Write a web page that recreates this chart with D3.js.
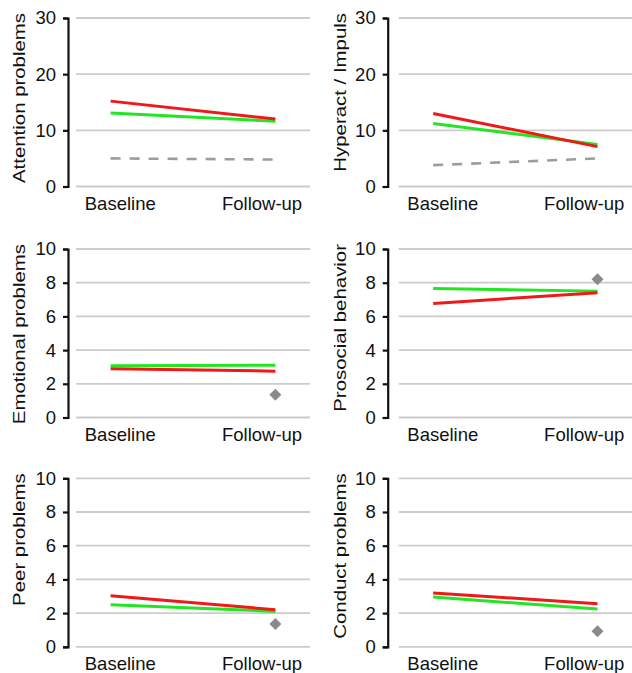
<!DOCTYPE html>
<html>
<head>
<meta charset="utf-8">
<script src="https://cdn.jsdelivr.net/npm/d3@7"></script>
<style>
  html, body { margin: 0; padding: 0; background: #fff; }
  svg { display: block; font-family: "Liberation Sans", Arial, sans-serif; }
</style>
</head>
<body>
<svg id="chart" width="632" height="673"></svg>
<script>
// ---- data ----
const categories = ["Baseline", "Follow-up"];
const panelTitles = ["Attention problems", "Hyperact / Impuls", "Emotional problems",
                     "Prosocial behavior", "Peer problems", "Conduct problems"];
const yMaxValues = [30, 30, 10, 10, 10, 10];
const ticks30 = [0, 10, 20, 30];
const ticks10 = [0, 2, 4, 6, 8, 10];
const greenSeries = [[13.1, 11.6], [11.2, 7.5], [3.07, 3.1], [7.66, 7.5], [2.5, 2.1], [2.95, 2.24]];
const redSeries   = [[15.2, 12.0], [13.0, 7.1], [2.9, 2.75], [6.77, 7.4], [3.03, 2.2], [3.2, 2.55]];
const graySeries  = [[5.0, 4.8], [3.8, 5.0], null, null, null, null];
const diamondValues = [null, null, 1.35, 8.2, 1.35, 0.93];

// ---- layout ----
const rowTops = [18, 249, 478.3];
const plotH = 168.5;
const cols = [
  { axisX: 68, gridX0: 76, gridX1: 310, titleX: 25 },
  { axisX: 387.7, gridX0: 398.7, gridX1: 632, titleX: 346 }
];

const svg = d3.select("#chart");

panelTitles.forEach((title, i) => {
  const col = cols[i % 2];
  const top = rowTops[Math.floor(i / 2)];
  const bottom = top + plotH;
  const yMax = yMaxValues[i];
  const tv = yMax === 30 ? ticks30 : ticks10;

  const y = d3.scaleLinear().domain([0, yMax]).range([bottom, top]);
  const x = d3.scalePoint().domain(categories).range([col.gridX0, col.gridX1]).padding(0.21);
  const xLab = d3.scalePoint().domain(categories).range([col.gridX0, col.gridX1]).padding(0.325).align(0.48);

  const g = svg.append("g");

  // gridlines
  g.selectAll(".grid").data(tv).join("line")
    .attr("x1", col.gridX0).attr("x2", col.gridX1)
    .attr("y1", d => y(d)).attr("y2", d => y(d))
    .attr("stroke", "#cccccc").attr("stroke-width", 1.8);

  // y axis
  const ax = g.append("g").attr("transform", `translate(${col.axisX},0)`)
    .call(d3.axisLeft(y).tickValues(tv).tickSize(5).tickSizeOuter(5).tickPadding(7));
  ax.select(".domain").attr("stroke", "#111").attr("stroke-width", 2.2);
  ax.selectAll(".tick line").attr("stroke", "#111").attr("stroke-width", 2.2);
  ax.selectAll(".tick text").attr("font-size", 18.5).attr("fill", "#111")
    .attr("font-family", "'Liberation Sans', Arial, sans-serif");

  // x labels
  g.selectAll(".xl").data(categories).join("text")
    .attr("x", d => xLab(d)).attr("y", bottom + 23)
    .attr("text-anchor", "middle").attr("font-size", 18.5).attr("fill", "#111")
    .text(d => d);

  // y title
  g.append("text")
    .attr("transform", `translate(${col.titleX},${top - 5}) rotate(-90) scale(1.2,1)`)
    .attr("text-anchor", "end").attr("font-size", 17).attr("fill", "#111")
    .text(title);

  const line = d3.line().x((d, k) => x(categories[k])).y(d => y(d));

  if (graySeries[i]) {
    g.append("path").datum(graySeries[i]).attr("d", line)
      .attr("fill", "none").attr("stroke", "#9c9c9c").attr("stroke-width", 2.6)
      .attr("stroke-dasharray", "10,9");
  }
  g.append("path").datum(greenSeries[i]).attr("d", line)
    .attr("fill", "none").attr("stroke", "#22e622").attr("stroke-width", 3);
  g.append("path").datum(redSeries[i]).attr("d", line)
    .attr("fill", "none").attr("stroke", "#f01818").attr("stroke-width", 3);

  if (diamondValues[i] != null) {
    g.append("path")
      .attr("d", d3.symbol().type(d3.symbolSquare).size(72)())
      .attr("transform", `translate(${x(categories[1])},${y(diamondValues[i])}) rotate(45)`)
      .attr("fill", "#8a8a8a");
  }
});
</script>
</body>
</html>
